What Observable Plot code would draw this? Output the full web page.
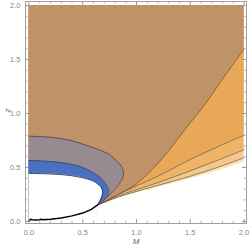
<!DOCTYPE html>
<html><head><meta charset="utf-8">
<script src="https://cdn.jsdelivr.net/npm/d3@7"></script>
<script src="https://cdn.jsdelivr.net/npm/@observablehq/plot@0.6"></script>
<style>html,body{margin:0;padding:0;background:#fff}svg{display:block}</style>
</head><body><div id="chart"></div>
<script>
// ---- data ----
const xMajor = [0, 0.5, 1, 1.5, 2];
const yMajor = [0, 0.5, 1, 1.5, 2];
const xMinor = [0.1,0.2,0.3,0.4,0.6,0.7,0.8,0.9,1.1,1.2,1.3,1.4,1.6,1.7,1.8,1.9];
const yMinor = [0.1,0.2,0.3,0.4,0.6,0.7,0.8,0.9,1.1,1.2,1.3,1.4,1.6,1.7,1.8,1.9];
const zTop = 2;
// black boundary curve (M, z)
const blackCurve = [[0,0.006],[0.015,0.02],[0.03,0.016],[0.06,0.014],[0.1,0.016],[0.11,0.021],[0.13,0.016],[0.2,0.02],[0.3,0.033],[0.4,0.052],[0.5,0.078],[0.58,0.112],[0.64,0.155]];
// fan boundaries to the right of the meeting point
const fan0 = [[0.64,0.155],[0.9,0.235],[1.2,0.315],[1.5,0.395],[1.75,0.465],[2,0.55]];
const fan1 = [[0.64,0.155],[0.9,0.25],[1.2,0.335],[1.5,0.42],[1.75,0.5],[2,0.59]];
const fan2 = [[0.64,0.155],[0.9,0.262],[1.2,0.36],[1.5,0.47],[1.75,0.565],[2,0.665]];
const fan3 = [[0.64,0.155],[0.9,0.285],[1.2,0.42],[1.5,0.575],[1.75,0.69],[2,0.8]];
const brownEdge = [[0.64,0.155],[0.75,0.205],[0.85,0.26],[1.0,0.35],[1.2,0.54],[1.48,0.89],[1.64,1.09],[1.79,1.305],[2,1.6]];
// closed loops (M as a function of z, from bottom to top)
const grayArc = [[0.64,0],[0.64,0.155],[0.72,0.22],[0.8,0.3],[0.86,0.38],[0.88,0.45],[0.86,0.51],[0.8,0.575],[0.73,0.63],[0.55,0.7],[0.39,0.75],[0.2,0.78],[0,0.79]];
const blueArc = [[0.64,0],[0.64,0.155],[0.7,0.2],[0.74,0.26],[0.73,0.32],[0.68,0.39],[0.6,0.45],[0.5,0.5],[0.39,0.53],[0.2,0.555],[0,0.565]];
const whiteArc = [[0.64,0],[0.64,0.15],[0.665,0.2],[0.685,0.26],[0.675,0.31],[0.63,0.355],[0.57,0.385],[0.39,0.425],[0.2,0.44],[0,0.445]];
const layerBounds = [fan0, fan1, fan2, fan3, brownEdge];
const layerColors = ["#fce3a9", "#f5c98b", "#efb466", "#e9a758", "#bf9268"];

// ---- chart ----
const W = 250, H = 250, mL = 25, mR = 4, mT = 1, mB = 27;
const innerW = W - mL - mR, innerH = H - mT - mB;
const tickGray = "#9a9a9a";
const lowerOf = (fan) => blackCurve.concat(fan.slice(1));

const marks = [];
layerBounds.forEach((fan, i) => {
  marks.push(Plot.areaY(lowerOf(fan), {x: d => d[0], y1: d => d[1], y2: zTop, fill: layerColors[i], curve: "catmull-rom"}));
});
marks.push(Plot.areaX(grayArc, {y: d => d[1], x1: 0, x2: d => d[0], fill: "#978b91", curve: "catmull-rom"}));
marks.push(Plot.areaX(blueArc, {y: d => d[1], x1: 0, x2: d => d[0], fill: "#4b70bf", curve: "catmull-rom"}));
marks.push(Plot.areaX(whiteArc, {y: d => d[1], x1: 0, x2: d => d[0], fill: "#ffffff", curve: "catmull-rom"}));
[fan1, fan2, fan3].forEach(f => marks.push(Plot.line(f, {x: d => d[0], y: d => d[1], stroke: "#7d6a55", strokeWidth: 0.9, curve: "catmull-rom"})));
marks.push(Plot.line(brownEdge, {x: d => d[0], y: d => d[1], stroke: "#6a5540", strokeWidth: 0.9, curve: "catmull-rom"}));
marks.push(Plot.line(grayArc.slice(1), {x: d => d[0], y: d => d[1], stroke: "#4a4448", strokeWidth: 0.8, curve: "catmull-rom"}));
marks.push(Plot.line(blueArc.slice(1), {x: d => d[0], y: d => d[1], stroke: "#3a3f55", strokeWidth: 0.7, curve: "catmull-rom"}));
marks.push(Plot.line(whiteArc.slice(1), {x: d => d[0], y: d => d[1], stroke: "#1f3566", strokeWidth: 0.9, curve: "catmull-rom"}));
marks.push(Plot.line(blackCurve, {x: d => d[0], y: d => d[1], stroke: "#000", strokeWidth: 1.5}));
marks.push(Plot.frame({stroke: "#a0a0a0"}));
// frame ticks pointing inward on all four sides
marks.push(Plot.tickX(xMajor, {x: d => d, insetTop: innerH - 4, stroke: tickGray}));
marks.push(Plot.tickX(xMinor, {x: d => d, insetTop: innerH - 2.5, stroke: tickGray, strokeWidth: 0.7}));
marks.push(Plot.tickX(xMajor, {x: d => d, insetBottom: innerH - 4, stroke: tickGray}));
marks.push(Plot.tickX(xMinor, {x: d => d, insetBottom: innerH - 2.5, stroke: tickGray, strokeWidth: 0.7}));
marks.push(Plot.tickY(yMajor, {y: d => d, insetRight: innerW - 4, stroke: tickGray}));
marks.push(Plot.tickY(yMinor, {y: d => d, insetRight: innerW - 2.5, stroke: tickGray, strokeWidth: 0.7}));
marks.push(Plot.tickY(yMajor, {y: d => d, insetLeft: innerW - 4, stroke: tickGray}));
marks.push(Plot.tickY(yMinor, {y: d => d, insetLeft: innerW - 2.5, stroke: tickGray, strokeWidth: 0.7}));
marks.push(Plot.axisX({ticks: xMajor, tickSize: 0, tickPadding: 6, tickFormat: d3.format(".1f"), fontSize: 7.5, color: "#888", label: null}));
marks.push(Plot.axisY({ticks: yMajor, tickSize: 0, tickPadding: 5, tickFormat: d3.format(".1f"), fontSize: 7.5, color: "#888", label: null}));
marks.push(Plot.text(["M"], {text: d => d, frameAnchor: "bottom", dy: 20, fontStyle: "italic", fontSize: 8, fill: "#666"}));
marks.push(Plot.text(["z"], {text: d => d, frameAnchor: "left", dx: -18, rotate: -90, fontStyle: "italic", fontSize: 8, fill: "#666"}));

const chart = Plot.plot({
  width: W, height: H,
  marginLeft: mL, marginRight: mR, marginTop: mT, marginBottom: mB,
  style: {fontFamily: "'Liberation Sans', Arial, sans-serif", background: "#fff"},
  x: {domain: [-0.0326, 2.023]},
  y: {domain: [-0.0185, 2.037]},
  marks
});
document.getElementById("chart").appendChild(chart);
</script>
</body></html>
